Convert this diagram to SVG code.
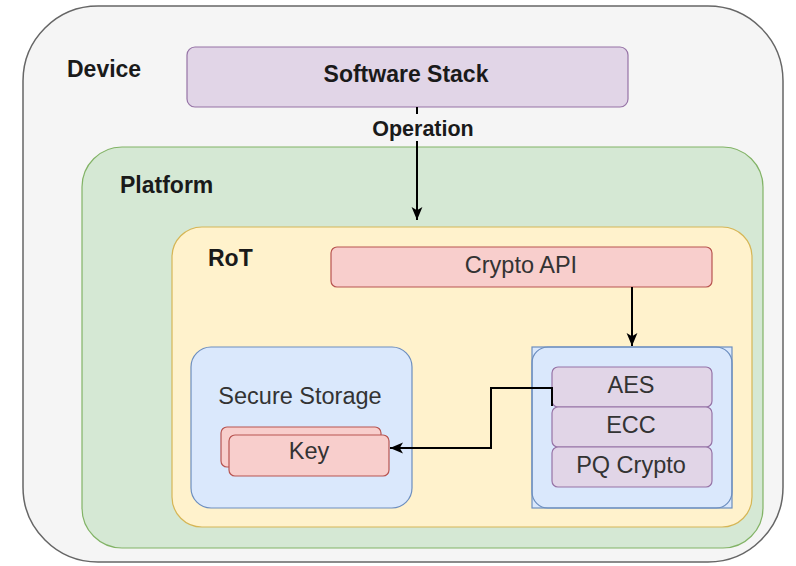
<svg xmlns="http://www.w3.org/2000/svg" width="796" height="566" viewBox="0 0 796 566">
<defs>
<style>
.b{font-family:"Liberation Sans",Arial,sans-serif;font-weight:bold;font-size:23px;fill:#1a1a1a}
.r{font-family:"Liberation Sans",Arial,sans-serif;font-size:23.5px;fill:#333333}
.c{text-anchor:middle}
.purple{fill:#e1d5e7;stroke:#9673a6;stroke-width:1.2}
.red{fill:#f8cecc;stroke:#b85450;stroke-width:1.2}
.blue{fill:#dae8fc;stroke:#6c8ebf;stroke-width:1.2}
.edge{fill:none;stroke:#000;stroke-width:2}
</style>
<marker id="arr" viewBox="0 0 12 12" refX="12" refY="6" markerWidth="13" markerHeight="13" markerUnits="userSpaceOnUse" orient="auto">
<path d="M0,1 L12,6 L0,11 L3,6 Z" fill="#000"/>
</marker>
</defs>
<g id="device">
<rect x="23" y="6" width="760" height="556" rx="75" ry="75" fill="#f5f5f5" stroke="#666666" stroke-width="1.5"/>
<text class="b" x="67" y="77" fill="#333">Device</text>
</g>
<g id="software-stack">
<rect class="purple" x="187" y="47" width="441" height="60" rx="8"/>
<text class="b c" x="406" y="82">Software Stack</text>
</g>
<g id="platform">
<rect x="82" y="147" width="681" height="401" rx="40" ry="40" fill="#d5e8d4" stroke="#82b366" stroke-width="1.2"/>
<text class="b" x="120" y="193">Platform</text>
</g>
<g id="rot">
<rect x="172" y="227" width="580" height="300" rx="30" ry="30" fill="#fff2cc" stroke="#d6b656" stroke-width="1.2"/>
<text class="b" x="208" y="266">RoT</text>
</g>
<g id="crypto-api">
<rect class="red" x="331" y="247" width="381" height="40" rx="6"/>
<text class="r c" x="521" y="273">Crypto API</text>
</g>
<g id="secure-storage">
<rect class="blue" x="191" y="347" width="221" height="161" rx="20" ry="20"/>
<text class="r c" x="300" y="404">Secure Storage</text>
</g>
<g id="key">
<rect class="red" x="221" y="427" width="160" height="40" rx="6"/>
<rect class="red" x="229" y="435" width="160" height="41" rx="6"/>
<text class="r c" x="309" y="459">Key</text>
</g>
<g id="crypto-algorithms">
<rect class="blue" x="532" y="347" width="200" height="161"/>
<rect x="532" y="347" width="200" height="161" rx="16" ry="16" fill="none" stroke="#6c8ebf" stroke-width="1.2"/>
</g>
<g id="aes">
<rect class="purple" x="552" y="367" width="160" height="40" rx="6"/>
<text class="r c" x="631" y="393">AES</text>
</g>
<g id="ecc">
<rect class="purple" x="552" y="407" width="160" height="40" rx="6"/>
<text class="r c" x="631" y="433">ECC</text>
</g>
<g id="pq-crypto">
<rect class="purple" x="552" y="447" width="160" height="40" rx="6"/>
<text class="r c" x="631" y="473">PQ Crypto</text>
</g>
<g id="connectors">
<path class="edge" d="M417,107 L417,220" marker-end="url(#arr)"/>
<rect x="368" y="114" width="112" height="27" fill="#f5f5f5"/>
<text class="b c" x="423" y="136" style="font-size:21.5px">Operation</text>
<path class="edge" d="M632,287 L632,346" marker-end="url(#arr)"/>
<path class="edge" d="M552,406 L552,388 L491,388 L491,448 L390,448" marker-end="url(#arr)"/>
</g>
</svg>
